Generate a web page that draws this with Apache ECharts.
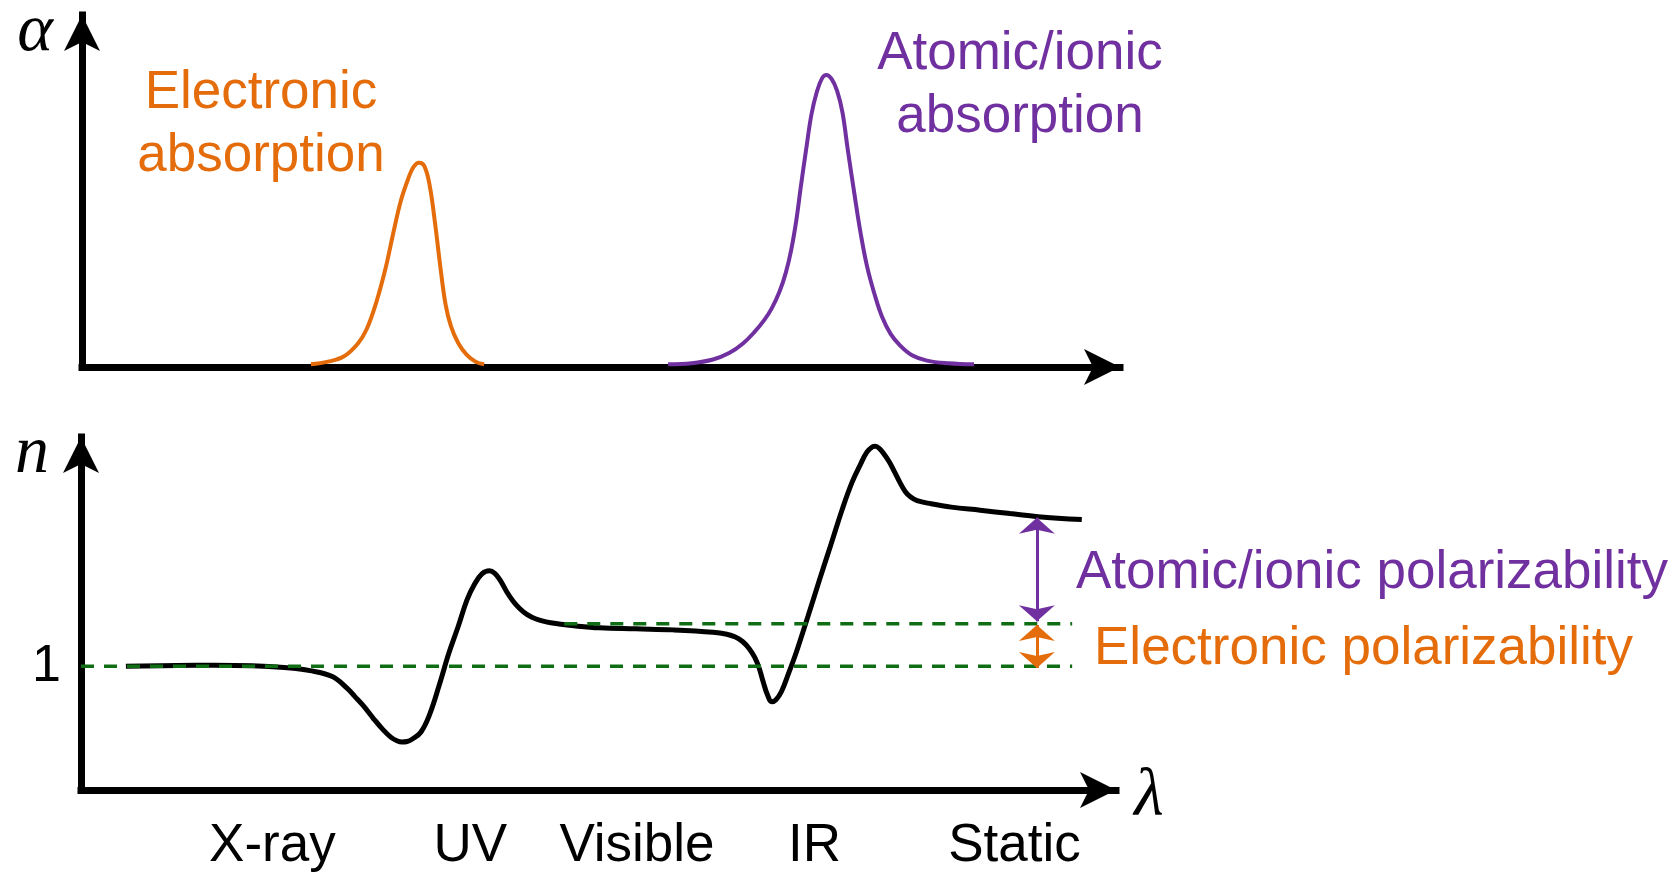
<!DOCTYPE html>
<html><head><meta charset="utf-8">
<script src="https://cdn.jsdelivr.net/npm/echarts@6/dist/echarts.min.js"></script>
<style>html,body{margin:0;padding:0;background:#fff}#c{width:1677px;height:873px}</style>
</head><body><div id="c"></div>
<script>
// ---- Data (arbitrary units) ----
// Top panel: absorption alpha vs wavelength
const electronicAbsX = [214, 230, 245, 258, 266, 275, 284, 291, 298, 305, 310, 315, 320, 325, 330, 335, 340, 345, 352, 360, 368, 376];
const electronicAbsY = [2.5, 5, 10, 22, 35, 60, 93, 125, 155, 176, 187, 191, 188, 170, 135, 94, 58, 38, 22, 11, 5, 2.5];
const ionicAbsX = [548, 570, 590, 605, 618, 629, 638, 645, 652, 658, 663, 668, 672, 677, 682, 687, 692, 696, 701, 706, 711, 716, 722, 728, 734, 741, 748, 756, 765, 776, 790, 810, 834];
const ionicAbsY = [2.5, 3.5, 7, 13, 22, 33, 44, 55, 70, 88, 109, 138, 168, 203, 236, 257, 270, 273, 269, 258, 238, 203, 163, 125, 94, 68, 47, 31, 20, 11, 6, 3.5, 2.5];
// Bottom panel: refractive index n vs wavelength
const indexX = [42, 90, 124, 160, 190, 214, 235, 249, 256, 264, 273, 282, 290, 296, 300, 305, 310, 318, 326, 335, 344, 353, 361, 368, 375, 382, 387, 392, 398, 404, 410, 417, 425, 435, 447, 461, 485, 519, 554, 591, 604, 612, 619, 625, 630, 634, 638, 642, 646, 650, 655, 662, 669, 680, 691, 702, 712, 721, 729, 735, 740, 743, 747, 751, 756, 761, 766, 771, 776, 782, 795, 814, 841, 869, 895, 936];
const indexN = [1.000, 1.003, 1.004, 1.002, 0.995, 0.983, 0.960, 0.914, 0.883, 0.847, 0.800, 0.756, 0.724, 0.710, 0.706, 0.708, 0.718, 0.745, 0.812, 0.926, 1.050, 1.157, 1.257, 1.318, 1.358, 1.370, 1.360, 1.334, 1.290, 1.253, 1.225, 1.201, 1.184, 1.172, 1.164, 1.157, 1.149, 1.145, 1.141, 1.132, 1.124, 1.113, 1.095, 1.068, 1.035, 0.996, 0.940, 0.889, 0.862, 0.870, 0.901, 0.975, 1.054, 1.195, 1.339, 1.480, 1.609, 1.712, 1.783, 1.830, 1.850, 1.853, 1.843, 1.823, 1.792, 1.753, 1.712, 1.677, 1.656, 1.642, 1.630, 1.617, 1.605, 1.592, 1.580, 1.569];
const tickPositions = [179, 364, 520, 686, 873];
const tickLabels = ['X-ray', 'UV', 'Visible', 'IR', 'Static'];
const yTickValues = [1];
const nVacuum = 1;
const nOptical = 1.165;
const lowerDashX = [0, 927];
const upperDashX = [452, 927];
const arrowX = 894;
const ionicArrowN = [1.174, 1.576];
const electronicArrowN = [1.160, 0.993];

// ---- Styles ----
const ORANGE = '#E46C0A', PURPLE = '#7030A0', GREEN = '#0f6e14';
const SANS = '"Liberation Sans", Arial, sans-serif';
const SERIF = '"Liberation Serif", "Times New Roman", serif';

const zip = (xs, ys) => xs.map((x, i) => [x, ys[i]]);
const axisLineStyle = { show: true, lineStyle: { color: '#000', width: 7, cap: 'square' }, symbol: ['none', 'arrow'], symbolSize: [27, 36] };
const noTicks = { show: false };
const headSize = [27, 16];

const chart = echarts.init(document.getElementById('c'), null, { renderer: 'canvas' });
chart.setOption({
  animation: false,
  backgroundColor: '#fff',
  grid: [
    { left: 82, top: 15, right: 557, bottom: 506 },
    { left: 81, top: 437, right: 561, bottom: 82 }
  ],
  xAxis: [
    { gridIndex: 0, type: 'value', min: 0, max: 970.5, axisLine: axisLineStyle, axisTick: noTicks, axisLabel: { show: false }, splitLine: { show: false } },
    { gridIndex: 1, type: 'value', min: 0, max: 968, axisLine: axisLineStyle, axisTick: noTicks, splitLine: { show: false },
      axisLabel: { show: true, customValues: tickPositions, formatter: v => tickLabels[tickPositions.indexOf(v)] || '',
        fontSize: 53, color: '#000', fontFamily: SANS, margin: 30 } }
  ],
  yAxis: [
    { gridIndex: 0, type: 'value', min: 0, max: 329, axisLine: axisLineStyle, axisTick: noTicks, axisLabel: { show: false }, splitLine: { show: false } },
    { gridIndex: 1, type: 'value', min: 0.52, max: 1.889, axisLine: axisLineStyle, axisTick: noTicks, splitLine: { show: false },
      axisLabel: { show: true, customValues: yTickValues, formatter: v => String(v), fontSize: 52, color: '#000', fontFamily: SANS, margin: 20, padding: [4, 0, 0, 0] } }
  ],
  series: [
    { type: 'line', xAxisIndex: 0, yAxisIndex: 0, data: zip(electronicAbsX, electronicAbsY), smooth: 0.4, showSymbol: false, symbol: 'none',
      lineStyle: { color: ORANGE, width: 4 }, z: 3, silent: true },
    { type: 'line', xAxisIndex: 0, yAxisIndex: 0, data: zip(ionicAbsX, ionicAbsY), smooth: 0.4, showSymbol: false, symbol: 'none',
      lineStyle: { color: PURPLE, width: 4 }, z: 3, silent: true },
    { type: 'line', xAxisIndex: 1, yAxisIndex: 1, data: zip(indexX, indexN), smooth: 0.4, showSymbol: false, symbol: 'none', clip: false,
      lineStyle: { color: '#000', width: 5 }, z: 3, silent: true },
    { type: 'line', xAxisIndex: 1, yAxisIndex: 1, data: lowerDashX.map(x => [x, nVacuum]), showSymbol: false, symbol: 'none',
      lineStyle: { color: GREEN, width: 3.5, type: [13, 10] }, z: 4, silent: true,
      markLine: { silent: true, animation: false, symbol: ['arrow', 'arrow'], label: { show: false }, emphasis: { disabled: true },
        lineStyle: { color: ORANGE, width: 3, type: 'solid' },
        data: [[{ coord: [arrowX, electronicArrowN[0]], symbolSize: headSize },
                { coord: [arrowX, electronicArrowN[1]], symbolSize: headSize }]] } },
    { type: 'line', xAxisIndex: 1, yAxisIndex: 1, data: upperDashX.map(x => [x, nOptical]), showSymbol: false, symbol: 'none',
      lineStyle: { color: GREEN, width: 3.5, type: [13, 10] }, z: 4, silent: true,
      markLine: { silent: true, animation: false, symbol: ['arrow', 'arrow'], label: { show: false }, emphasis: { disabled: true },
        lineStyle: { color: PURPLE, width: 3, type: 'solid' },
        data: [[{ coord: [arrowX, ionicArrowN[0]], symbolSize: headSize },
                { coord: [arrowX, ionicArrowN[1]], symbolSize: headSize }]] } }
  ],
  graphic: [
    { type: 'text', x: 261, y: 62, silent: true, style: { text: 'Electronic\nabsorption', fill: ORANGE, fontSize: 53, fontFamily: SANS, align: 'center', verticalAlign: 'top', lineHeight: 63 } },
    { type: 'text', x: 1020, y: 23, silent: true, style: { text: 'Atomic/ionic\nabsorption', fill: PURPLE, fontSize: 53, fontFamily: SANS, align: 'center', verticalAlign: 'top', lineHeight: 63 } },
    { type: 'text', x: 1076, y: 573, silent: true, style: { text: 'Atomic/ionic polarizability', fill: PURPLE, fontSize: 53, fontFamily: SANS, align: 'left', verticalAlign: 'middle' } },
    { type: 'text', x: 1094, y: 649, silent: true, style: { text: 'Electronic polarizability', fill: ORANGE, fontSize: 53, fontFamily: SANS, align: 'left', verticalAlign: 'middle' } },
    { type: 'text', x: 35, y: 32, silent: true, style: { text: 'α', fill: '#000', fontSize: 68, fontStyle: 'italic', fontFamily: SERIF, align: 'center', verticalAlign: 'middle' } },
    { type: 'text', x: 32, y: 454, silent: true, style: { text: 'n', fill: '#000', fontSize: 68, fontStyle: 'italic', fontFamily: SERIF, align: 'center', verticalAlign: 'middle' } },
    { type: 'text', x: 1149, y: 797, silent: true, style: { text: 'λ', fill: '#000', fontSize: 68, fontStyle: 'italic', fontFamily: SERIF, align: 'center', verticalAlign: 'middle' } }
  ]
});
</script>
</body></html>
